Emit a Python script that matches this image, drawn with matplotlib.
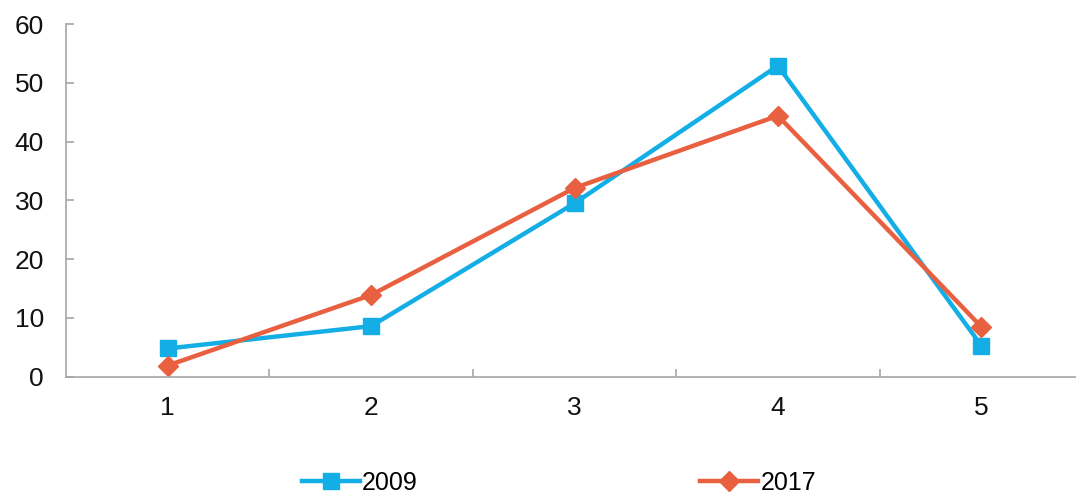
import matplotlib
matplotlib.use("Agg")
import matplotlib.pyplot as plt
from matplotlib.ticker import FixedLocator

plt.rcParams['font.family'] = ['Liberation Sans', 'DejaVu Sans']

categories = [1, 2, 3, 4, 5]
series_2009 = [4.8, 8.6, 29.5, 52.9, 5.3]
series_2017 = [1.9, 13.9, 32.1, 44.4, 8.5]
yticks = [0, 10, 20, 30, 40, 50, 60]

blue = '#14AEE6'
red = '#E8603F'
axis_grey = '#A6A6A6'

fig = plt.figure(figsize=(10.76, 5.01), dpi=100)
ax = fig.add_axes([66 / 1076, 124.3 / 501, 1017 / 1076, 352.7 / 501])

ax.plot(categories, series_2009, color=blue, lw=3.2, marker='s', ms=11.5,
        label='2009', solid_joinstyle='miter')
ax.plot(categories, series_2017, color=red, lw=3.2, marker='D', ms=10,
        label='2017', solid_joinstyle='miter')

ax.set_xlim(0.5, 5.5)
ax.set_ylim(0, 60)
ax.set_yticks(yticks)
ax.set_xticks(categories)
ax.xaxis.set_minor_locator(FixedLocator([1.5, 2.5, 3.5, 4.5, 5.5]))

for side in ('top', 'right'):
    ax.spines[side].set_visible(False)
for side in ('left', 'bottom'):
    ax.spines[side].set_color(axis_grey)
    ax.spines[side].set_linewidth(1.2)

ax.tick_params(axis='y', direction='in', length=6, width=1.2, color=axis_grey,
               labelsize=19, pad=16, labelcolor='#111111')
ax.tick_params(axis='x', which='major', length=0, labelsize=19, pad=14,
               labelcolor='#111111')
ax.tick_params(axis='x', which='minor', direction='in', length=6, width=1.2,
               color=axis_grey)

fig.legend(loc='lower left', bbox_to_anchor=(292 / 1076, -0.008), ncol=2,
           frameon=False, fontsize=18, handlelength=2.3, handletextpad=0.1,
           columnspacing=11.3, borderaxespad=0)

fig.savefig('out.png', dpi=100)
